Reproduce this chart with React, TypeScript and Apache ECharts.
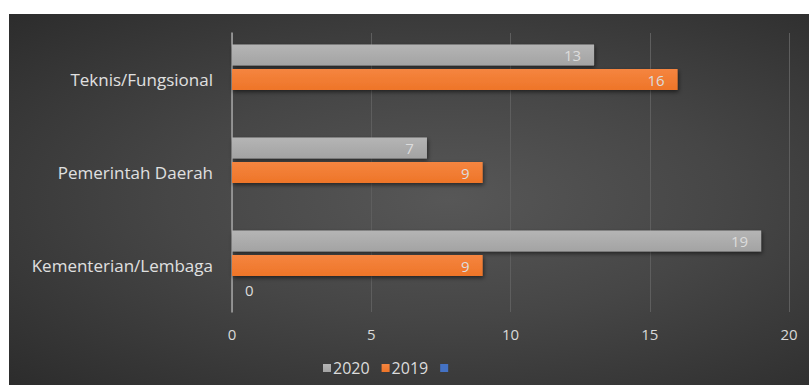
import React, { useEffect, useRef } from "react";
import * as echarts from "echarts";

const categories = ["Teknis/Fungsional", "Pemerintah Daerah", "Kementerian/Lembaga"];
const values2020 = [13, 7, 19];
const values2019 = [16, 9, 9];
const valuesBlank: (number | null)[] = [null, null, 0];
const xTicks = { min: 0, max: 20, interval: 5 };

export default function App() {
  const ref = useRef<HTMLDivElement>(null);
  useEffect(() => {
    if (!ref.current) return;
    const chart = echarts.init(ref.current, null, { renderer: "svg" });
    const font = "Open Sans";
    const labelStyle = { color: "#dcdcdc", fontFamily: font, fontSize: 15 };
    const shadow = { shadowColor: "rgba(0,0,0,0.55)", shadowBlur: 4, shadowOffsetX: 1, shadowOffsetY: 2 };
    chart.setOption({
      animation: false,
      backgroundColor: "transparent",
      textStyle: { fontFamily: font },
      grid: { left: 223, right: 20, top: 19, bottom: 73, containLabel: false },
      legend: {
        bottom: 4,
        left: 309,
        itemWidth: 8,
        itemHeight: 8,
        itemGap: 12,
        icon: "rect",
        data: ["2020", "2019", " "],
        textStyle: { color: "#dcdcdc", fontFamily: font, fontSize: 16, padding: [0, 0, 0, -3] },
      },
      xAxis: {
        type: "value",
        min: xTicks.min,
        max: xTicks.max,
        interval: xTicks.interval,
        axisLine: { show: false },
        axisTick: { show: false },
        splitLine: { show: true, lineStyle: { color: "#5e5e5e", width: 1 } },
        axisLabel: { color: "#d9d9d9", fontFamily: font, fontSize: 15, margin: 14 },
      },
      yAxis: {
        type: "category",
        inverse: true,
        data: categories,
        axisLine: { show: true, lineStyle: { color: "#a6a6a6", width: 1.5 } },
        axisTick: { show: false },
        axisLabel: { color: "#e0e0e0", fontFamily: font, fontSize: 17, margin: 19 },
      },
      series: [
        {
          name: "2020",
          type: "bar",
          data: values2020,
          barWidth: 21,
          barGap: "17%",
          itemStyle: {
            color: new echarts.graphic.LinearGradient(0, 0, 0, 1, [
              { offset: 0, color: "#b5b5b5" },
              { offset: 1, color: "#a3a3a3" },
            ]),
            ...shadow,
          },
          label: { show: true, position: "insideRight", distance: 13, ...labelStyle },
        },
        {
          name: "2019",
          type: "bar",
          data: values2019,
          barWidth: 21,
          barGap: "17%",
          itemStyle: {
            color: new echarts.graphic.LinearGradient(0, 0, 0, 1, [
              { offset: 0, color: "#f58540" },
              { offset: 1, color: "#ee7528" },
            ]),
            ...shadow,
          },
          label: { show: true, position: "insideRight", distance: 13, ...labelStyle },
        },
        {
          name: " ",
          type: "bar",
          data: valuesBlank,
          barWidth: 21,
          barGap: "17%",
          itemStyle: { color: "#4472c4" },
          label: { show: true, position: "right", distance: 13, ...labelStyle },
        },
      ],
    });
    return () => chart.dispose();
  }, []);
  return (
    <div style={{ position: "absolute", left: 0, top: 0, width: 809, height: 385, background: "#ffffff" }}>
      <div
        style={{
          position: "absolute",
          left: 9,
          top: 14,
          width: 800,
          height: 371,
          background: "radial-gradient(ellipse at 55% 50%, #575757 0%, #464646 45%, #2c2c2c 100%)",
        }}
      >
        <div ref={ref} style={{ width: 800, height: 371 }} />
      </div>
    </div>
  );
}
